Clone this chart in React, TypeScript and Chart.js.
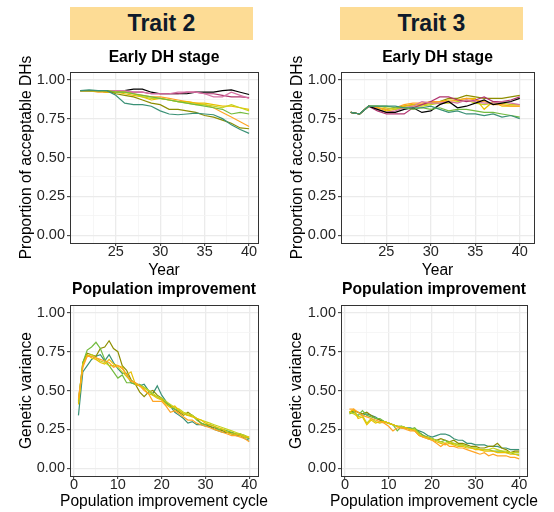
import React, { useEffect, useRef } from 'react';
import { Chart, registerables } from 'chart.js';
Chart.register(...registerables);

const FONT = "'Liberation Sans', Arial, Helvetica, sans-serif";

// ---------- data ----------
const YEARS = [21, 22, 23, 24, 25, 26, 27, 28, 29, 30, 31, 32, 33, 34, 35, 36, 37, 38, 39, 40];
const CYCLES = [1, 2, 3, 4, 5, 6, 7, 8, 9, 10, 11, 12, 13, 14, 15, 16, 17, 18, 19, 20,
  21, 22, 23, 24, 25, 26, 27, 28, 29, 30, 31, 32, 33, 34, 35, 36, 37, 38, 39, 40];

const Y_MAJOR = [0, 0.25, 0.5, 0.75, 1];
const Y_MINOR = [0.125, 0.375, 0.625, 0.875];
const YEAR_MAJOR = [25, 30, 35, 40];
const YEAR_MINOR = [22.5, 27.5, 32.5, 37.5];
const CYCLE_MAJOR = [0, 10, 20, 30, 40];
const CYCLE_MINOR = [5, 15, 25, 35];

const COLORS: Record<string, string> = {
  black: '#000000',
  magenta: '#B0346F',
  pink: '#D874A6',
  orange: '#FFA424',
  gold: '#E9C000',
  lime: '#C6D31C',
  green: '#72BB3F',
  olive: '#8E8E00',
  teal: '#3A9176',
};

// Trait 2 – Early DH stage (proportion of acceptable DHs), years 21..40
const T2_DH_BLACK = [0.93, 0.93, 0.93, 0.92, 0.92, 0.93, 0.94, 0.94, 0.92, 0.91, 0.91, 0.91, 0.91, 0.92, 0.92, 0.92, 0.93, 0.935, 0.92, 0.905];
const T2_DH_MAGENTA = [0.93, 0.93, 0.93, 0.93, 0.93, 0.92, 0.92, 0.92, 0.91, 0.91, 0.91, 0.91, 0.92, 0.92, 0.91, 0.91, 0.90, 0.89, 0.89, 0.885];
const T2_DH_PINK = [0.93, 0.93, 0.93, 0.93, 0.93, 0.93, 0.92, 0.92, 0.91, 0.91, 0.91, 0.92, 0.92, 0.92, 0.91, 0.89, 0.89, 0.92, 0.90, 0.88];
const T2_DH_ORANGE = [0.93, 0.93, 0.92, 0.92, 0.92, 0.92, 0.91, 0.90, 0.89, 0.89, 0.88, 0.87, 0.86, 0.85, 0.84, 0.82, 0.79, 0.76, 0.73, 0.70];
const T2_DH_GOLD = [0.93, 0.93, 0.93, 0.92, 0.92, 0.91, 0.90, 0.89, 0.87, 0.88, 0.87, 0.86, 0.86, 0.85, 0.85, 0.84, 0.83, 0.83, 0.82, 0.81];
const T2_DH_LIME = [0.93, 0.93, 0.93, 0.93, 0.92, 0.92, 0.91, 0.89, 0.88, 0.88, 0.87, 0.86, 0.85, 0.84, 0.84, 0.83, 0.82, 0.84, 0.82, 0.80];
const T2_DH_GREEN = [0.93, 0.93, 0.93, 0.93, 0.92, 0.92, 0.91, 0.90, 0.89, 0.88, 0.87, 0.86, 0.85, 0.84, 0.83, 0.82, 0.81, 0.78, 0.79, 0.78];
const T2_DH_OLIVE = [0.93, 0.93, 0.93, 0.93, 0.91, 0.90, 0.89, 0.87, 0.85, 0.84, 0.81, 0.81, 0.80, 0.79, 0.77, 0.76, 0.74, 0.72, 0.69, 0.685];
const T2_DH_TEAL = [0.93, 0.935, 0.93, 0.93, 0.90, 0.85, 0.84, 0.84, 0.83, 0.80, 0.78, 0.775, 0.78, 0.785, 0.78, 0.775, 0.75, 0.71, 0.68, 0.655];

// Trait 3 – Early DH stage
const T3_DH_BLACK = [0.79, 0.78, 0.83, 0.81, 0.79, 0.79, 0.81, 0.82, 0.79, 0.80, 0.84, 0.86, 0.82, 0.83, 0.85, 0.87, 0.84, 0.85, 0.86, 0.88];
const T3_DH_MAGENTA = [0.79, 0.78, 0.83, 0.80, 0.78, 0.78, 0.78, 0.82, 0.84, 0.86, 0.89, 0.89, 0.87, 0.86, 0.87, 0.89, 0.86, 0.86, 0.87, 0.89];
const T3_DH_PINK = [0.79, 0.78, 0.83, 0.81, 0.79, 0.80, 0.82, 0.83, 0.86, 0.85, 0.85, 0.86, 0.85, 0.87, 0.86, 0.85, 0.85, 0.86, 0.85, 0.84];
const T3_DH_ORANGE = [0.79, 0.78, 0.83, 0.82, 0.81, 0.82, 0.84, 0.85, 0.85, 0.86, 0.86, 0.86, 0.87, 0.88, 0.87, 0.86, 0.84, 0.84, 0.83, 0.83];
const T3_DH_GOLD = [0.79, 0.78, 0.83, 0.82, 0.80, 0.81, 0.83, 0.84, 0.84, 0.85, 0.86, 0.87, 0.87, 0.88, 0.88, 0.81, 0.86, 0.83, 0.83, 0.83];
const T3_DH_LIME = [0.79, 0.78, 0.83, 0.83, 0.82, 0.81, 0.82, 0.83, 0.83, 0.84, 0.85, 0.85, 0.86, 0.87, 0.85, 0.84, 0.85, 0.85, 0.84, 0.84];
const T3_DH_GREEN = [0.79, 0.78, 0.83, 0.83, 0.83, 0.82, 0.82, 0.81, 0.82, 0.81, 0.82, 0.80, 0.81, 0.81, 0.80, 0.79, 0.79, 0.78, 0.77, 0.76];
const T3_DH_OLIVE = [0.79, 0.78, 0.83, 0.82, 0.81, 0.82, 0.83, 0.84, 0.84, 0.85, 0.86, 0.88, 0.88, 0.90, 0.89, 0.88, 0.88, 0.88, 0.89, 0.90];
const T3_DH_TEAL = [0.79, 0.78, 0.83, 0.83, 0.83, 0.83, 0.82, 0.82, 0.82, 0.83, 0.81, 0.79, 0.80, 0.78, 0.78, 0.77, 0.78, 0.76, 0.77, 0.75];

// Trait 2 – Population improvement (genetic variance), cycles 1..40
const T2_PI_ORANGE = [0.45, 0.65, 0.72, 0.72, 0.71, 0.70, 0.69, 0.68, 0.65, 0.66, 0.64, 0.60, 0.56, 0.55, 0.53, 0.50, 0.48, 0.43, 0.43, 0.43,
  0.40, 0.36, 0.37, 0.35, 0.33, 0.31, 0.31, 0.29, 0.28, 0.27, 0.26, 0.25, 0.24, 0.23, 0.22, 0.21, 0.21, 0.20, 0.19, 0.17];
const T2_PI_GOLD = [0.41, 0.66, 0.73, 0.71, 0.70, 0.68, 0.67, 0.70, 0.67, 0.66, 0.65, 0.60, 0.62, 0.54, 0.53, 0.51, 0.48, 0.47, 0.45, 0.44,
  0.41, 0.39, 0.40, 0.37, 0.35, 0.34, 0.33, 0.32, 0.31, 0.29, 0.28, 0.27, 0.26, 0.25, 0.23, 0.22, 0.22, 0.21, 0.20, 0.20];
const T2_PI_LIME = [0.44, 0.67, 0.72, 0.73, 0.71, 0.69, 0.68, 0.66, 0.66, 0.65, 0.62, 0.59, 0.56, 0.55, 0.53, 0.52, 0.50, 0.48, 0.46, 0.45,
  0.43, 0.41, 0.39, 0.38, 0.36, 0.35, 0.34, 0.32, 0.31, 0.30, 0.29, 0.28, 0.27, 0.26, 0.25, 0.24, 0.23, 0.22, 0.21, 0.20];
const T2_PI_GREEN = [0.42, 0.68, 0.76, 0.78, 0.81, 0.77, 0.70, 0.66, 0.62, 0.58, 0.60, 0.55, 0.55, 0.54, 0.54, 0.52, 0.50, 0.47, 0.46, 0.44,
  0.42, 0.40, 0.38, 0.37, 0.35, 0.34, 0.34, 0.31, 0.29, 0.28, 0.28, 0.27, 0.25, 0.25, 0.24, 0.23, 0.22, 0.22, 0.20, 0.19];
const T2_PI_OLIVE = [0.43, 0.68, 0.74, 0.73, 0.72, 0.77, 0.78, 0.82, 0.77, 0.75, 0.66, 0.63, 0.57, 0.54, 0.49, 0.46, 0.49, 0.50, 0.47, 0.45,
  0.42, 0.40, 0.38, 0.36, 0.34, 0.36, 0.34, 0.32, 0.29, 0.28, 0.27, 0.26, 0.25, 0.24, 0.23, 0.23, 0.22, 0.22, 0.21, 0.19];
const T2_PI_TEAL = [0.34, 0.62, 0.66, 0.70, 0.72, 0.73, 0.69, 0.73, 0.68, 0.64, 0.61, 0.61, 0.55, 0.54, 0.53, 0.54, 0.50, 0.48, 0.53, 0.47,
  0.43, 0.40, 0.36, 0.34, 0.32, 0.29, 0.30, 0.28, 0.28, 0.27, 0.27, 0.25, 0.24, 0.23, 0.23, 0.22, 0.21, 0.21, 0.19, 0.18];

// Trait 3 – Population improvement
const T3_PI_ORANGE = [0.38, 0.38, 0.36, 0.34, 0.33, 0.32, 0.31, 0.30, 0.29, 0.27, 0.24, 0.26, 0.26, 0.25, 0.24, 0.24, 0.21, 0.20, 0.19, 0.18,
  0.16, 0.14, 0.16, 0.14, 0.14, 0.13, 0.13, 0.12, 0.11, 0.10, 0.09, 0.10, 0.08, 0.09, 0.08, 0.08, 0.08, 0.07, 0.07, 0.06];
const T3_PI_GOLD = [0.36, 0.38, 0.32, 0.33, 0.28, 0.31, 0.29, 0.30, 0.30, 0.29, 0.28, 0.27, 0.26, 0.26, 0.25, 0.24, 0.21, 0.20, 0.19, 0.18,
  0.17, 0.16, 0.15, 0.16, 0.15, 0.14, 0.14, 0.13, 0.13, 0.12, 0.12, 0.11, 0.11, 0.11, 0.10, 0.10, 0.10, 0.09, 0.09, 0.08];
const T3_PI_LIME = [0.36, 0.35, 0.33, 0.34, 0.29, 0.32, 0.30, 0.29, 0.30, 0.29, 0.28, 0.27, 0.27, 0.26, 0.25, 0.25, 0.22, 0.20, 0.20, 0.19,
  0.18, 0.17, 0.16, 0.17, 0.16, 0.15, 0.15, 0.14, 0.13, 0.13, 0.12, 0.12, 0.12, 0.13, 0.12, 0.11, 0.11, 0.10, 0.10, 0.10];
const T3_PI_GREEN = [0.35, 0.36, 0.34, 0.37, 0.34, 0.33, 0.32, 0.32, 0.30, 0.29, 0.28, 0.24, 0.27, 0.26, 0.25, 0.26, 0.23, 0.21, 0.19, 0.19,
  0.18, 0.17, 0.18, 0.16, 0.16, 0.15, 0.15, 0.14, 0.13, 0.13, 0.12, 0.12, 0.12, 0.11, 0.11, 0.11, 0.10, 0.10, 0.09, 0.09];
const T3_PI_OLIVE = [0.36, 0.37, 0.36, 0.35, 0.36, 0.34, 0.32, 0.31, 0.30, 0.29, 0.28, 0.27, 0.26, 0.26, 0.25, 0.25, 0.23, 0.21, 0.20, 0.19,
  0.18, 0.19, 0.18, 0.17, 0.18, 0.16, 0.16, 0.15, 0.14, 0.14, 0.13, 0.13, 0.14, 0.14, 0.16, 0.13, 0.12, 0.10, 0.11, 0.11];
const T3_PI_TEAL = [0.36, 0.37, 0.36, 0.34, 0.35, 0.34, 0.33, 0.31, 0.30, 0.29, 0.28, 0.27, 0.27, 0.26, 0.26, 0.25, 0.24, 0.23, 0.21, 0.20,
  0.21, 0.22, 0.22, 0.21, 0.19, 0.18, 0.18, 0.16, 0.16, 0.15, 0.15, 0.15, 0.14, 0.14, 0.14, 0.13, 0.13, 0.12, 0.12, 0.12];

type Series = { color: string; values: number[] };

const T2_DH: Series[] = [
  { color: COLORS.teal, values: T2_DH_TEAL },
  { color: COLORS.olive, values: T2_DH_OLIVE },
  { color: COLORS.green, values: T2_DH_GREEN },
  { color: COLORS.lime, values: T2_DH_LIME },
  { color: COLORS.gold, values: T2_DH_GOLD },
  { color: COLORS.orange, values: T2_DH_ORANGE },
  { color: COLORS.pink, values: T2_DH_PINK },
  { color: COLORS.magenta, values: T2_DH_MAGENTA },
  { color: COLORS.black, values: T2_DH_BLACK },
];
const T3_DH: Series[] = [
  { color: COLORS.teal, values: T3_DH_TEAL },
  { color: COLORS.green, values: T3_DH_GREEN },
  { color: COLORS.black, values: T3_DH_BLACK },
  { color: COLORS.pink, values: T3_DH_PINK },
  { color: COLORS.magenta, values: T3_DH_MAGENTA },
  { color: COLORS.lime, values: T3_DH_LIME },
  { color: COLORS.orange, values: T3_DH_ORANGE },
  { color: COLORS.gold, values: T3_DH_GOLD },
  { color: COLORS.olive, values: T3_DH_OLIVE },
];
const T2_PI: Series[] = [
  { color: COLORS.orange, values: T2_PI_ORANGE },
  { color: COLORS.gold, values: T2_PI_GOLD },
  { color: COLORS.lime, values: T2_PI_LIME },
  { color: COLORS.green, values: T2_PI_GREEN },
  { color: COLORS.olive, values: T2_PI_OLIVE },
  { color: COLORS.teal, values: T2_PI_TEAL },
];
const T3_PI: Series[] = [
  { color: COLORS.orange, values: T3_PI_ORANGE },
  { color: COLORS.gold, values: T3_PI_GOLD },
  { color: COLORS.lime, values: T3_PI_LIME },
  { color: COLORS.green, values: T3_PI_GREEN },
  { color: COLORS.olive, values: T3_PI_OLIVE },
  { color: COLORS.teal, values: T3_PI_TEAL },
];

// ---------- layout ----------
const TITLE_SIZE = 15.7;
const AXIS_TITLE_SIZE = 15.6;
const TICK_SIZE = 14.5;
const LH = 1.2;

type PanelCfg = {
  canvas: { left: number; top: number; width: number; height: number };
  area: { left: number; right: number; top: number; bottom: number };
  titleCY: number;
  yTitleCX: number;
  xTitleCY: number;
  title: string;
  xTitle: string;
  yTitle: string;
  xs: number[];
  xMin: number;
  xMax: number;
  xMajor: number[];
  xMinor: number[];
  series: Series[];
};

const framePlugin = {
  id: 'frame',
  afterDatasetsDraw(chart: any) {
    const { ctx, chartArea } = chart;
    ctx.save();
    ctx.strokeStyle = '#333333';
    ctx.lineWidth = 1;
    ctx.strokeRect(Math.round(chartArea.left) + 0.5, Math.round(chartArea.top) + 0.5,
      Math.round(chartArea.right - chartArea.left), Math.round(chartArea.bottom - chartArea.top));
    ctx.restore();
  },
};

// x-axis title drawn without Chart.js' width clamp (ggplot lets it overhang the panel)
const xTitlePlugin = {
  id: 'xTitleFree',
  afterDraw(chart: any, _args: any, opts: any) {
    if (!opts || !opts.text) return;
    const { ctx, chartArea } = chart;
    ctx.save();
    ctx.font = `${AXIS_TITLE_SIZE}px ${FONT}`;
    ctx.fillStyle = '#000000';
    ctx.textAlign = 'center';
    ctx.textBaseline = 'middle';
    ctx.fillText(opts.text, (chartArea.left + chartArea.right) / 2, opts.y);
    ctx.restore();
  },
};

function gridFor(major: number[]) {
  const isMajor = (ctx: any) => ctx.tick && major.some((m) => Math.abs(m - ctx.tick.value) < 1e-6);
  return {
    color: (ctx: any) => (isMajor(ctx) ? '#EBEBEB' : '#F4F4F4'),
    lineWidth: (ctx: any) => (isMajor(ctx) ? 1.3 : 0.8),
    tickColor: (ctx: any) => (isMajor(ctx) ? '#333333' : 'rgba(0,0,0,0)'),
    tickWidth: 1,
    tickLength: 3,
    drawTicks: true,
  };
}

function Panel({ cfg }: { cfg: PanelCfg }) {
  const ref = useRef<HTMLCanvasElement | null>(null);
  useEffect(() => {
    if (!ref.current) return;
    const c = cfg.canvas;
    const a = cfg.area;
    const TH = TITLE_SIZE * LH;
    const AH = AXIS_TITLE_SIZE * LH;
    const titlePadTop = cfg.titleCY - c.top - TH / 2;
    const titlePadBottom = a.top - c.top - TH - titlePadTop;
    const yScaleWidth = a.left - c.left;
    const xScaleHeight = c.top + c.height - a.bottom;
    const yTitlePad = cfg.yTitleCX - c.left - AH / 2;
    const xTicks = [...cfg.xMinor, ...cfg.xMajor].sort((p, q) => p - q);
    const yTicks = [...Y_MINOR, ...Y_MAJOR].sort((p, q) => p - q);

    const chart = new Chart(ref.current, {
      type: 'line',
      data: {
        datasets: cfg.series.map((s) => ({
          data: cfg.xs.map((x, i) => ({ x, y: s.values[i] })),
          borderColor: s.color,
          backgroundColor: s.color,
          borderWidth: 1.2,
          pointRadius: 0,
          tension: 0,
          fill: false,
        })),
      },
      options: {
        responsive: false,
        animation: false,
        devicePixelRatio: 1,
        layout: {
          padding: { left: 0, top: 0, right: c.left + c.width - a.right, bottom: 0 },
        },
        plugins: {
          legend: { display: false },
          tooltip: { enabled: false },
          title: {
            display: true,
            text: cfg.title,
            fullSize: false,
            color: '#000000',
            font: { family: FONT, size: TITLE_SIZE, weight: 'bold', lineHeight: LH },
            padding: { top: titlePadTop, bottom: titlePadBottom },
          },
          xTitleFree: { text: cfg.xTitle, y: cfg.xTitleCY - c.top },
        },
        scales: {
          x: {
            type: 'linear',
            min: cfg.xMin,
            max: cfg.xMax,
            afterBuildTicks: (scale: any) => {
              scale.ticks = xTicks.map((v) => ({ value: v }));
            },
            afterFit: (scale: any) => {
              scale.height = xScaleHeight;
            },
            ticks: {
              autoSkip: false,
              maxRotation: 0,
              minRotation: 0,
              padding: -1,
              color: '#262626',
              font: { family: FONT, size: TICK_SIZE, lineHeight: 1 },
              callback: (v: any) => (cfg.xMajor.includes(Number(v)) ? String(v) : ''),
            },
            grid: gridFor(cfg.xMajor),
            border: { display: false },
            title: { display: false },
          },
          y: {
            type: 'linear',
            min: -0.05,
            max: 1.05,
            afterBuildTicks: (scale: any) => {
              scale.ticks = yTicks.map((v) => ({ value: v }));
            },
            afterFit: (scale: any) => {
              scale.width = yScaleWidth;
            },
            ticks: {
              autoSkip: false,
              padding: 2,
              color: '#262626',
              font: { family: FONT, size: TICK_SIZE, lineHeight: 1 },
              callback: (v: any) =>
                Y_MAJOR.some((m) => Math.abs(m - Number(v)) < 1e-6) ? Number(v).toFixed(2) : '',
            },
            grid: gridFor(Y_MAJOR),
            border: { display: false },
            title: {
              display: true,
              text: cfg.yTitle,
              color: '#000000',
              font: { family: FONT, size: AXIS_TITLE_SIZE, lineHeight: LH },
              padding: { top: yTitlePad, bottom: 0 },
            },
          },
        },
      } as any,
      plugins: [framePlugin, xTitlePlugin],
    });
    return () => chart.destroy();
  }, [cfg]);

  const c = cfg.canvas;
  return (
    <canvas
      ref={ref}
      width={c.width}
      height={c.height}
      style={{ position: 'absolute', left: c.left, top: c.top, width: c.width, height: c.height }}
    />
  );
}

const PANELS: PanelCfg[] = [
  {
    canvas: { left: 0, top: 44, width: 277, height: 236 },
    area: { left: 70, right: 258, top: 72, bottom: 243 },
    titleCY: 58, yTitleCX: 27, xTitleCY: 270.5,
    title: 'Early DH stage', xTitle: 'Year', yTitle: 'Proportion of acceptable DHs',
    xs: YEARS, xMin: 19.85, xMax: 41.0, xMajor: YEAR_MAJOR, xMinor: YEAR_MINOR, series: T2_DH,
  },
  {
    canvas: { left: 277, top: 44, width: 277, height: 236 },
    area: { left: 341, right: 534, top: 72, bottom: 243 },
    titleCY: 58, yTitleCX: 298, xTitleCY: 270.5,
    title: 'Early DH stage', xTitle: 'Year', yTitle: 'Proportion of acceptable DHs',
    xs: YEARS, xMin: 19.9, xMax: 41.6, xMajor: YEAR_MAJOR, xMinor: YEAR_MINOR, series: T3_DH,
  },
  {
    canvas: { left: 0, top: 276, width: 277, height: 236 },
    area: { left: 70, right: 258, top: 305, bottom: 476 },
    titleCY: 290, yTitleCX: 27, xTitleCY: 501.5,
    title: 'Population improvement', xTitle: 'Population improvement cycle', yTitle: 'Genetic variance',
    xs: CYCLES, xMin: -0.93, xMax: 42.0, xMajor: CYCLE_MAJOR, xMinor: CYCLE_MINOR, series: T2_PI,
  },
  {
    canvas: { left: 277, top: 276, width: 277, height: 236 },
    area: { left: 341, right: 527, top: 305, bottom: 476 },
    titleCY: 290, yTitleCX: 297, xTitleCY: 501.5,
    title: 'Population improvement', xTitle: 'Population improvement cycle', yTitle: 'Genetic variance',
    xs: CYCLES, xMin: -0.93, xMax: 41.8, xMajor: CYCLE_MAJOR, xMinor: CYCLE_MINOR, series: T3_PI,
  },
];

const HEADERS = [
  { text: 'Trait 2', left: 70, width: 183 },
  { text: 'Trait 3', left: 340, width: 183 },
];

export default function App() {
  return (
    <div style={{ position: 'fixed', left: 0, top: 0, width: 554, height: 512, background: '#ffffff', overflow: 'hidden' }}>
      {HEADERS.map((h) => (
        <div
          key={h.text}
          style={{
            position: 'absolute',
            left: h.left,
            top: 7,
            width: h.width,
            height: 33,
            background: '#FDDC95',
            color: '#0E1A2B',
            fontFamily: FONT,
            fontWeight: 'bold',
            fontSize: 23,
            lineHeight: '33px',
            textAlign: 'center',
          }}
        >
          {h.text}
        </div>
      ))}
      {PANELS.map((p, i) => (
        <Panel key={i} cfg={p} />
      ))}
    </div>
  );
}
